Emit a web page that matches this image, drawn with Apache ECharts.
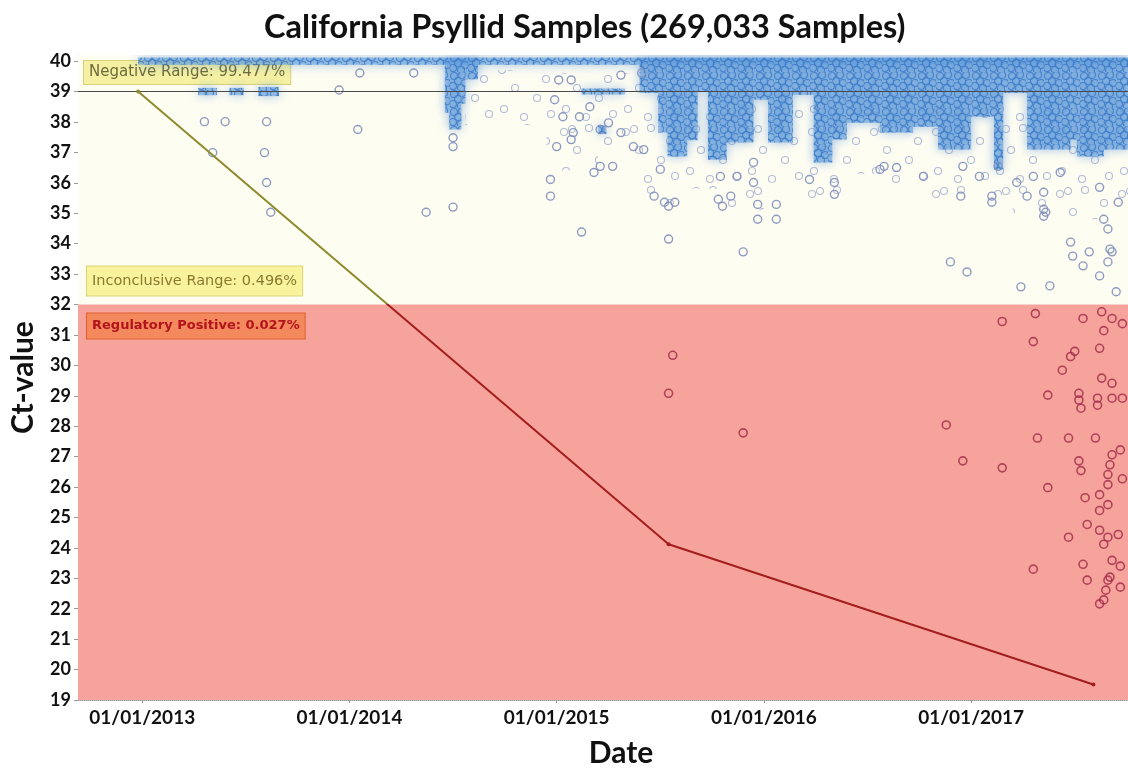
<!DOCTYPE html>
<html>
<head>
<meta charset="utf-8">
<script src="https://cdn.jsdelivr.net/npm/echarts@6/dist/echarts.min.js"></script>
<style>
    html, body { margin: 0; padding: 0; background: #fff; }
    #chart { width: 1128px; height: 773px; }
</style>
</head>
<body>
<div id="chart"></div>
<script>
"use strict";
// x values are decimal years, y values are Ct
var xTicks = [2013, 2014, 2015, 2016, 2017];
var yTicks = [19, 20, 21, 22, 23, 24, 25, 26, 27, 28, 29, 30, 31, 32, 33, 34, 35, 36, 37, 38, 39, 40];

// trend line
var trendX = [2012.98, 2015.54, 2017.59];
var trendCt = [39.0, 24.12, 19.51];

// dense blue clouds of overlapping samples: [fromYear, toYear, ctLow, ctHigh]
var denseBlocks = [
    [2012.98, 2017.76, 39.88, 40.12],
    [2013.27, 2013.36, 38.88, 39.12],
    [2013.42, 2013.49, 38.88, 39.12],
    [2013.56, 2013.66, 38.85, 39.15],
    [2014.46, 2014.48, 38.3, 40.1],
    [2014.48, 2014.54, 37.75, 40.1],
    [2014.54, 2014.56, 38.6, 40.1],
    [2014.56, 2014.62, 39.4, 40.1],
    [2015.20, 2015.24, 37.6, 37.9],
    [2015.12, 2015.33, 38.9, 39.1],
    [2015.40, 2015.49, 38.95, 40.1],
    [2015.49, 2015.535, 37.65, 40.1],
    [2015.535, 2015.63, 36.86, 40.1],
    [2015.63, 2015.68, 37.4, 40.1],
    [2015.68, 2015.73, 38.99, 40.1],
    [2015.73, 2015.82, 36.76, 40.1],
    [2015.82, 2015.95, 37.32, 40.1],
    [2015.95, 2016.02, 38.73, 40.1],
    [2016.02, 2016.14, 37.32, 40.1],
    [2016.14, 2016.24, 38.89, 40.1],
    [2016.24, 2016.33, 36.67, 40.1],
    [2016.33, 2016.40, 37.42, 40.1],
    [2016.40, 2016.56, 37.97, 40.1],
    [2016.56, 2016.72, 37.65, 40.1],
    [2016.72, 2016.84, 37.84, 40.1],
    [2016.84, 2017.00, 37.09, 40.1],
    [2017.00, 2017.11, 38.17, 40.1],
    [2017.11, 2017.155, 36.44, 40.1],
    [2017.155, 2017.27, 38.95, 40.1],
    [2017.27, 2017.48, 37.09, 40.1],
    [2017.48, 2017.51, 37.42, 40.1],
    [2017.51, 2017.64, 36.86, 40.1],
    [2017.64, 2017.76, 37.09, 40.1]
];

// looser spread of samples around the clouds: [fromYear, toYear, ctLow, ctHigh]
var haloBlocks = [
    [2014.56, 2014.95, 37.9, 39.7],
    [2014.95, 2015.20, 36.4, 39.6],
    [2015.20, 2015.40, 36.9, 39.6],
    [2015.40, 2015.60, 35.3, 39.0],
    [2015.60, 2015.80, 35.8, 39.0],
    [2015.80, 2016.00, 35.1, 39.0],
    [2016.00, 2016.20, 36.0, 39.0],
    [2016.20, 2016.40, 35.5, 39.0],
    [2016.40, 2016.60, 36.3, 39.0],
    [2016.60, 2016.80, 35.9, 39.0],
    [2016.80, 2017.00, 35.4, 39.0],
    [2017.00, 2017.20, 35.6, 39.0],
    [2017.20, 2017.40, 35.0, 39.0],
    [2017.40, 2017.76, 34.8, 38.5]
];

// single samples above 32
var blueX = [2013.95, 2014.05, 2014.31, 2014.04, 2013.30, 2013.40, 2013.60, 2013.34, 2013.59, 2013.60,
    2013.62, 2014.37, 2014.50, 2014.50, 2014.50, 2014.97, 2014.97, 2015.12, 2015.31, 2015.21,
    2015.01, 2015.07, 2015.31, 2015.41, 2015.52, 2015.57, 2015.90, 2015.11, 2015.16, 2015.25,
    2015.37, 2015.42, 2015.00, 2015.07, 2015.21, 2015.27, 2015.18, 2015.47, 2015.54, 2014.99,
    2015.03, 2015.08, 2015.54, 2015.78, 2015.80, 2015.84, 2015.97, 2015.97, 2016.06, 2016.06,
    2016.22, 2016.34, 2016.34, 2016.56, 2015.50, 2015.79, 2015.87, 2015.95, 2015.95, 2016.58,
    2016.64, 2016.77, 2016.95, 2016.96, 2017.04, 2017.10, 2017.10, 2017.13, 2017.22, 2017.27,
    2017.30, 2017.35, 2017.35, 2017.35, 2017.43, 2017.62, 2017.71, 2017.64, 2017.66, 2017.48,
    2017.49, 2017.57, 2017.54, 2017.67, 2017.66, 2016.98, 2016.90, 2017.62, 2017.70, 2017.38,
    2017.24, 2017.36, 2017.68];
var blueCt = [39.05, 39.61, 39.61, 37.75, 38.01, 38.01, 38.01, 36.99, 36.99, 36.01,
    35.03, 35.03, 37.48, 37.19, 35.20, 36.11, 35.56, 34.38, 37.65, 37.75,
    39.38, 39.38, 39.54, 39.61, 35.36, 35.36, 33.73, 38.17, 38.50, 37.97,
    37.19, 37.09, 37.19, 37.42, 36.54, 36.54, 36.34, 35.56, 34.15, 38.73,
    38.17, 37.65, 35.23, 35.46, 35.23, 35.56, 35.29, 34.80, 35.29, 34.80,
    36.11, 36.01, 35.62, 36.44, 36.44, 36.21, 36.21, 36.01, 36.67, 36.54,
    36.50, 36.21, 35.56, 36.54, 36.21, 35.56, 35.36, 36.54, 36.01, 35.56,
    36.21, 35.69, 35.13, 34.90, 36.34, 35.85, 35.36, 34.80, 34.48, 34.05,
    33.59, 33.73, 33.27, 33.82, 33.40, 33.07, 33.40, 32.94, 32.42, 32.61,
    32.58, 35.03, 33.73];

// regulatory positive samples
var redX = [2015.56, 2015.54, 2015.90, 2016.88, 2016.96, 2017.15, 2017.15, 2017.31, 2017.30, 2017.32,
    2017.37, 2017.37, 2017.44, 2017.48, 2017.50, 2017.47, 2017.52, 2017.52, 2017.52, 2017.53,
    2017.54, 2017.56, 2017.47, 2017.54, 2017.56, 2017.30, 2017.60, 2017.61, 2017.61, 2017.62,
    2017.63, 2017.64, 2017.63, 2017.68, 2017.68, 2017.68, 2017.66, 2017.64, 2017.62, 2017.66,
    2017.66, 2017.67, 2017.68, 2017.66, 2017.68, 2017.66, 2017.65, 2017.64, 2017.62, 2017.67,
    2017.62, 2017.55, 2017.62, 2017.53, 2017.73, 2017.73, 2017.72, 2017.73, 2017.71, 2017.72,
    2017.72];
var redCt = [30.33, 29.08, 27.78, 28.04, 26.86, 26.63, 31.44, 31.70, 30.78, 27.61,
    29.02, 25.98, 29.84, 30.29, 30.46, 27.61, 29.08, 28.86, 26.86, 26.54,
    31.54, 24.77, 24.35, 23.46, 22.94, 23.30, 27.61, 28.69, 28.92, 30.56,
    31.76, 31.14, 29.58, 31.54, 29.41, 28.92, 24.35, 24.12, 24.58, 26.41,
    26.08, 26.73, 27.06, 25.42, 23.59, 22.94, 22.61, 22.29, 22.16, 23.04,
    25.75, 25.65, 25.23, 28.59, 28.92, 31.37, 27.22, 26.27, 24.44, 23.40,
    22.71];

function pairs(xs, ys) {
    return xs.map(function (x, i) { return [x, ys[i]]; });
}

// small repeating textures of ring markers, used to fill the crowded areas
function ringTexture(size, base, rings, stroke, lineWidth) {
    var c = document.createElement("canvas");
    c.width = size;
    c.height = size;
    var ctx = c.getContext("2d");
    if (base) {
        ctx.fillStyle = base;
        ctx.fillRect(0, 0, size, size);
    }
    ctx.strokeStyle = stroke;
    ctx.lineWidth = lineWidth;
    rings.forEach(function (p) {
        ctx.beginPath();
        ctx.arc(p[0], p[1], 3.5, 0, Math.PI * 2);
        ctx.stroke();
    });
    return c;
}
var denseTexture = ringTexture(18, "rgba(104,160,218,0.62)",
    [[4, 4], [12, 3], [8, 9], [15, 11], [3, 14], [11, 16]], "rgba(62,126,202,0.85)", 1.2);
var haloTexture = ringTexture(62, null,
    [[6, 8], [31, 4], [50, 17], [19, 26], [41, 36], [8, 47], [28, 55], [55, 52], [14, 5]],
    "rgba(128,146,196,0.6)", 1.1);

function blockRenderer(fill, blur) {
    return function (params, api) {
        var p0 = api.coord([api.value(0), api.value(3)]);
        var p1 = api.coord([api.value(1), api.value(2)]);
        return {
            type: "rect",
            shape: {x: p0[0], y: p0[1], width: p1[0] - p0[0], height: p1[1] - p0[1]},
            style: {fill: fill, shadowBlur: blur, shadowColor: "rgba(80,140,212,0.75)"}
        };
    };
}

var chart = echarts.init(document.getElementById("chart"), null, {renderer: "canvas"});
var boldFont = "Lato";

var option = {
    animation: false,
    backgroundColor: "#ffffff",
    title: {
        text: "California Psyllid Samples (269,033 Samples)",
        left: 259,
        top: 6,
        textStyle: {fontFamily: boldFont, fontWeight: "bold", fontSize: 32.5, color: "#111"}
    },
    grid: {left: 76, right: 0, top: 55, bottom: 68},
    xAxis: {
        type: "value",
        min: 2012.69,
        max: 2017.757,
        name: "Date",
        nameLocation: "middle",
        nameGap: 38,
        nameTextStyle: {fontFamily: boldFont, fontWeight: "bold", fontSize: 30, color: "#111", padding: [0, 0, 0, 36]},
        axisLine: {show: true, lineStyle: {color: "#999", type: "dotted"}},
        axisTick: {show: true, customValues: xTicks, length: 3, lineStyle: {color: "#999"}},
        axisLabel: {
            customValues: xTicks,
            margin: 8,
            fontFamily: boldFont, fontWeight: "bold", fontSize: 19, color: "#111",
            formatter: function (v) { return "01/01/" + Math.round(v); }
        },
        splitLine: {show: false}
    },
    yAxis: {
        type: "value",
        min: 19,
        max: 40.2,
        name: "Ct-value",
        nameLocation: "middle",
        nameGap: 40,
        nameTextStyle: {fontFamily: boldFont, fontWeight: "bold", fontSize: 30, color: "#111"},
        axisLine: {show: true, lineStyle: {color: "#999", type: "dotted"}},
        axisTick: {show: true, customValues: yTicks, length: 4, lineStyle: {color: "#999"}},
        axisLabel: {
            customValues: yTicks,
            margin: 7,
            fontFamily: boldFont, fontWeight: "bold", fontSize: 18, color: "#111"
        },
        splitLine: {show: false}
    },
    visualMap: {
        show: false,
        type: "piecewise",
        seriesIndex: 5,
        dimension: 1,
        pieces: [
            {gte: 32, lte: 41, color: "#8e8a2c"},
            {gte: 0, lt: 32, color: "#a31d1d"}
        ]
    },
    series: [
        {
            // background bands
            type: "line",
            data: [],
            z: 0,
            silent: true,
            markArea: {
                silent: true,
                data: [
                    [{yAxis: 32, itemStyle: {color: "#fefdf2"}}, {yAxis: 40.2}],
                    [{yAxis: 19, itemStyle: {color: "#f6a39b"}}, {yAxis: 32}]
                ]
            }
        },
        {
            type: "custom",
            z: 1,
            silent: true,
            clip: true,
            encode: {x: [0, 1], y: [2, 3]},
            data: haloBlocks,
            renderItem: blockRenderer({image: haloTexture, repeat: "repeat"}, 0)
        },
        {
            type: "custom",
            z: 2,
            silent: true,
            clip: true,
            encode: {x: [0, 1], y: [2, 3]},
            data: denseBlocks,
            renderItem: blockRenderer({image: denseTexture, repeat: "repeat"}, 11)
        },
        {
            type: "scatter",
            z: 3,
            symbol: "circle",
            symbolSize: 8,
            data: pairs(blueX, blueCt),
            itemStyle: {color: "rgba(0,0,0,0)", borderColor: "#7f8fbb", borderWidth: 1.4, opacity: 0.9}
        },
        {
            type: "scatter",
            z: 3,
            symbol: "circle",
            symbolSize: 8,
            data: pairs(redX, redCt),
            itemStyle: {color: "rgba(0,0,0,0)", borderColor: "#a52f4e", borderWidth: 1.6, opacity: 0.85}
        },
        {
            type: "line",
            z: 5,
            data: pairs(trendX, trendCt),
            symbol: "circle",
            symbolSize: 4,
            lineStyle: {width: 2},
            markLine: {
                silent: true,
                symbol: "none",
                label: {show: false},
                lineStyle: {color: "#4a4a4a", width: 1, type: "solid"},
                data: [{yAxis: 39}]
            },
            markArea: {
                silent: true,
                itemStyle: {color: "rgba(0,0,0,0)"},
                data: [
                    [{
                        yAxis: 39,
                        label: {
                            show: true, position: "insideTopLeft", distance: 6,
                            formatter: "Negative Range: 99.477%",
                            fontFamily: "DejaVu Sans", fontSize: 15, color: "#6d6a3c",
                            backgroundColor: "#f6f1a2", borderColor: "#d8d07c", borderWidth: 1,
                            padding: [4, 5]
                        }
                    }, {yAxis: 40.2}],
                    [{
                        yAxis: 32,
                        label: {
                            show: true, position: "insideBottomLeft", distance: 9,
                            formatter: "Inconclusive Range: 0.496%",
                            fontFamily: "DejaVu Sans", fontSize: 14.5, color: "#8a7a2e",
                            backgroundColor: "#f8f39c", borderColor: "#dcd37a", borderWidth: 1,
                            padding: [7, 5]
                        }
                    }, {yAxis: 39}],
                    [{
                        yAxis: 19,
                        label: {
                            show: true, position: "insideTopLeft", distance: 9,
                            formatter: "Regulatory Positive: 0.027%",
                            fontFamily: "DejaVu Sans", fontSize: 13, fontWeight: "bold", color: "#b3141c",
                            backgroundColor: "#f3895c", borderColor: "#e0602c", borderWidth: 1,
                            padding: [6, 5]
                        }
                    }, {yAxis: 32}]
                ]
            }
        }
    ]
};
chart.setOption(option);
</script>
</body>
</html>
